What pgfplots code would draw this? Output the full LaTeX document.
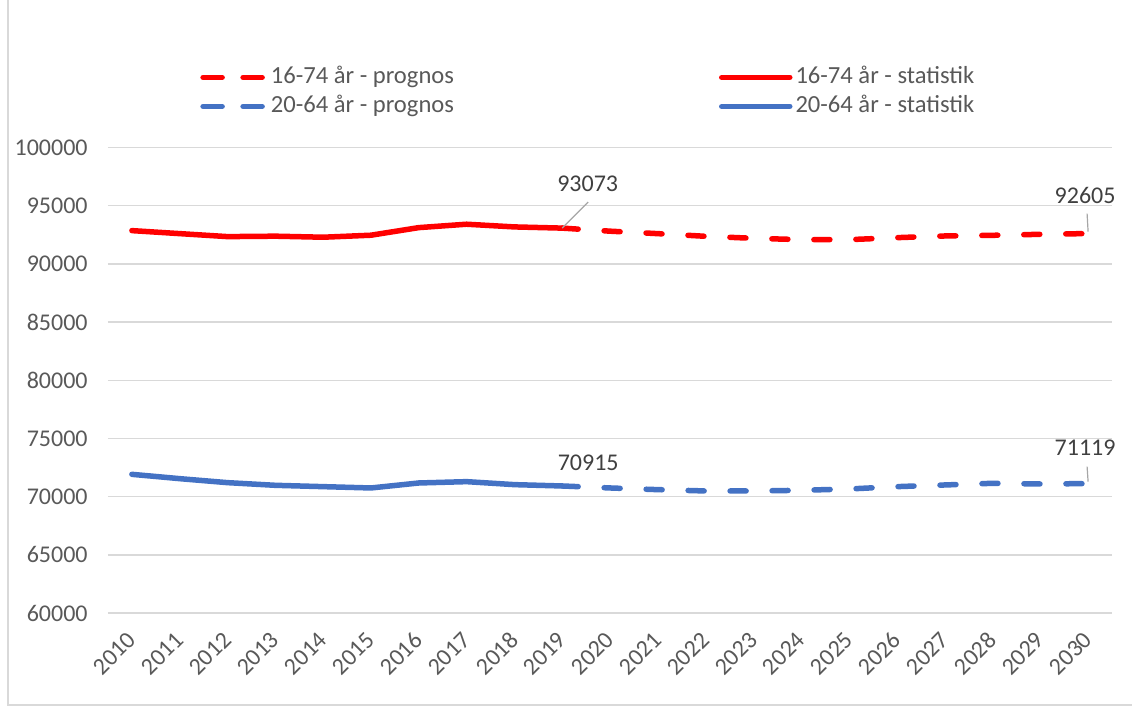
\documentclass[border=0pt]{standalone}
\usepackage{pgfplots}
\pgfplotsset{compat=1.18}
\usepackage{fontspec}
\setmainfont{Carlito}
\definecolor{rd}{HTML}{FF0000}
\definecolor{bl}{HTML}{4472C4}
\definecolor{gridc}{HTML}{D9D9D9}
\definecolor{tickc}{HTML}{595959}
\definecolor{labc}{HTML}{404040}
\definecolor{leadc}{HTML}{A6A6A6}
\pgfplotsset{
  dashleg/.style={legend image code/.code={\draw[##1, dash pattern=on 9.5pt off 10.5pt] (0pt,0pt) -- (31pt,0pt);}},
  solidleg/.style={legend image code/.code={\draw[##1] (0pt,0pt) -- (34pt,0pt);}},
}
\newcommand{\fs}{\fontsize{12}{14}\selectfont}

\begin{document}
\begin{tikzpicture}
\useasboundingbox (-54pt,-47pt) rectangle (512pt,306.5pt);
\draw[gridc, line width=0.75pt] (-50pt,320pt) -- (-50pt,-46pt) -- (530pt,-46pt);
\begin{axis}[
  at={(0,0)}, anchor=south west,
  width=502pt, height=232.75pt, scale only axis,
  clip=false,
  xmin=-0.5, xmax=20.5, ymin=60000, ymax=100000,
  ytick={60000,65000,70000,75000,80000,85000,90000,95000,100000},
  yticklabels={60000,65000,70000,75000,80000,85000,90000,95000,100000},
  scaled y ticks=false,
  xtick={0,...,20},
  xticklabels={2010,2011,2012,2013,2014,2015,2016,2017,2018,2019,2020,2021,2022,2023,2024,2025,2026,2027,2028,2029,2030},
  axis line style={draw=none}, major tick length=0pt,
  ymajorgrids, grid style={gridc, line width=0.75pt},
  yticklabel style={anchor=east, inner sep=0pt},
  yticklabel shift=10pt,
  xticklabel style={rotate=45, anchor=east, inner sep=0pt},
  xticklabel shift=11.5pt,
  ticklabel style={font=\fs, text=tickc},
  legend columns=2,
  legend cell align=left,
  legend style={draw=none, fill=none, at={(0.0916,1.1815)}, anchor=north west,
    inner sep=0pt, font=\fontsize{12.3}{14}\selectfont, text=tickc, row sep=0.5pt,
    nodes={inner sep=1.5pt, text height=8.5pt, text depth=2.5pt},
    /tikz/every even column/.append style={column sep=131pt}},
]
% 16-74 prognos
\addplot[rd, line width=2.75pt, line cap=round, dash pattern=on 8pt off 13pt, dashleg]
  coordinates {(9,93073) (10,92810) (11,92598) (12,92369) (13,92197) (14,92083)
    (15,92083) (16,92254) (17,92397) (18,92455) (19,92540) (20,92605)};
\addlegendentry{16-74 år - prognos}
% 16-74 statistik
\addplot[rd, line width=2.75pt, line cap=round, line join=round, solidleg]
  coordinates {(0,92858) (1,92600) (2,92343) (3,92380) (4,92290) (5,92463)
    (6,93116) (7,93408) (8,93176) (9,93073)};
\addlegendentry{16-74 år - statistik}
% 20-64 prognos
\addplot[bl, line width=2.75pt, line cap=round, dash pattern=on 8pt off 13pt, dashleg]
  coordinates {(9,70915) (10,70744) (11,70600) (12,70486) (13,70486) (14,70543)
    (15,70658) (16,70858) (17,71001) (18,71144) (19,71087) (20,71119)};
\addlegendentry{20-64 år - prognos}
% 20-64 statistik
\addplot[bl, line width=2.75pt, line cap=round, line join=round, solidleg]
  coordinates {(0,71916) (1,71544) (2,71201) (3,70972) (4,70858) (5,70744)
    (6,71172) (7,71287) (8,71030) (9,70915)};
\addlegendentry{20-64 år - statistik}

\draw[leadc, line width=0.6pt] (axis cs:9,93073) -- ++(13pt,13pt);
\draw[leadc, line width=0.6pt] ([yshift=1pt]axis cs:20,92605) -- ++(-0.5pt,9pt);
\draw[leadc, line width=0.6pt] ([yshift=1pt]axis cs:20,71119) -- ++(-0.5pt,7.5pt);
\node[font=\fs, text=labc, xshift=12.75pt, yshift=22pt] at (axis cs:9,93073) {93073};
\node[font=\fs, text=labc, xshift=-1.5pt, yshift=19pt] at (axis cs:20,92605) {92605};
\node[font=\fs, text=labc, xshift=13pt, yshift=11.5pt] at (axis cs:9,70915) {70915};
\node[font=\fs, text=labc, xshift=-1.5pt, yshift=18pt] at (axis cs:20,71119) {71119};
\end{axis}
\end{tikzpicture}
\end{document}
